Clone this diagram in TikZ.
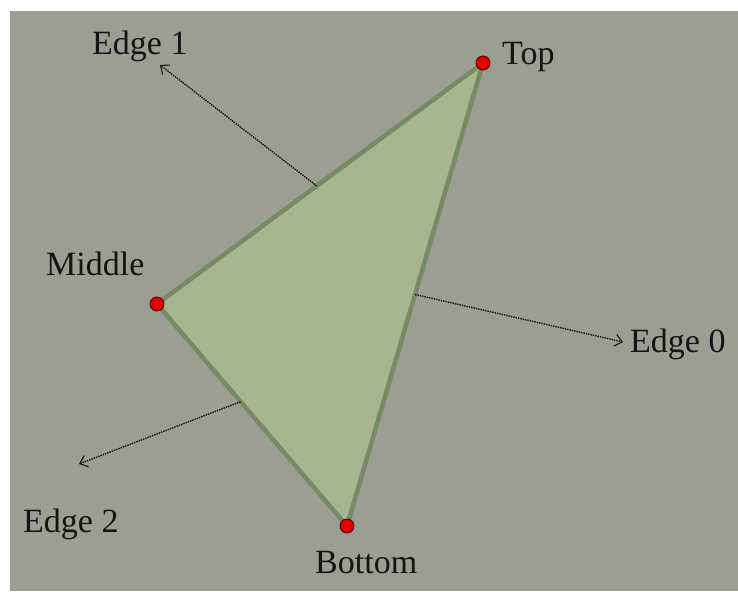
\documentclass[tikz,border=0pt]{standalone}
\usepackage{fontspec}
\setmainfont{Liberation Serif}
\usetikzlibrary{arrows.meta, calc}
\definecolor{slate}{HTML}{9B9E91}
\definecolor{leaf}{HTML}{A6B78F}
\definecolor{leafedge}{HTML}{768A66}
\definecolor{pin}{HTML}{E00000}
\definecolor{pinrim}{HTML}{5A0000}
\definecolor{ink}{HTML}{141414}
\tikzset{
  vlabel/.style={anchor=base west, inner sep=0pt, text=ink},
  normal/.style={draw=ink, densely dotted, line width=1.4pt,
    -{Straight Barb[length=7pt, width=12pt, line width=1.1pt]}},
  pindot/.style={circle, fill=pin, draw=pinrim, line width=0.9pt,
    minimum size=14pt, inner sep=0pt}
}

\begin{document}
\begin{tikzpicture}[x=1pt, y=-1pt, font=\fontsize{34}{40}\selectfont]
  \useasboundingbox (0,0) rectangle (738,591);
  \fill[white] (0,0) rectangle (738,591);
  \fill[slate] (10,11) rectangle (738,591);

  % triangle corners
  \coordinate (top) at (483,63);
  \coordinate (mid) at (157,304);
  \coordinate (bot) at (347,526);
  \filldraw[fill=leaf, draw=leafedge, line width=4.5pt, line join=round]
    (top) -- (mid) -- (bot) -- cycle;

  % where the normals leave the edges
  \coordinate (e1foot) at ($(mid)!0.49!(top)$);
  \coordinate (e0foot) at ($(top)!0.50!(bot)$);
  \coordinate (e2foot) at ($(mid)!0.44!(bot)$);
  \coordinate (e1tip) at (160,65);
  \coordinate (e0tip) at (623,342);
  \coordinate (e2tip) at (79,464);
  \draw[normal] (e1foot) -- (e1tip);
  \draw[normal] (e0foot) -- (e0tip);
  \draw[normal] (e2foot) -- (e2tip);

  \node[pindot] (ptop) at (top) {};
  \node[pindot] (pmid) at (mid) {};
  \node[pindot] (pbot) at (bot) {};

  \node[vlabel] (ltop) at (502,65) {Top};
  \node[vlabel] (lmid) at (46,275) {Middle};
  \node[vlabel] (lbot) at (315,573) {Bottom};
  \node[vlabel] (le1) at (92,55) {Edge 1};
  \node[vlabel] (le0) at (630,352) {Edge 0};
  \node[vlabel] (le2) at (23,532) {Edge 2};
\end{tikzpicture}
\end{document}
